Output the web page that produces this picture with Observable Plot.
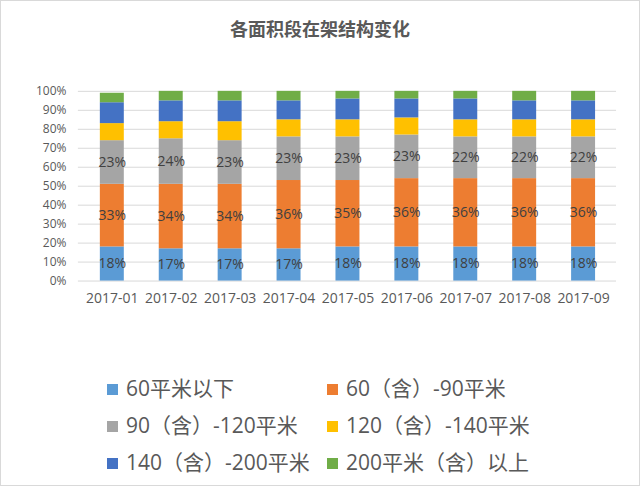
<!DOCTYPE html>
<html>
<head>
<meta charset="utf-8">
<script src="https://cdn.jsdelivr.net/npm/d3@7"></script>
<script src="https://cdn.jsdelivr.net/npm/@observablehq/plot@0.6"></script>
<style>
  html, body { margin: 0; padding: 0; background: #fff; }
  #chart { position: relative; width: 640px; height: 486px; box-sizing: border-box; border: 1px solid #d9d9d9; overflow: hidden;
    font-family: "Open Sans", "Noto Sans CJK SC", sans-serif; color: #595959; }
  #title { position: absolute; left: 0; top: 14px; width: 638px; text-align: center; font-size: 18px; font-weight: bold;
    font-family: "Noto Sans CJK SC", sans-serif; color: #595959; line-height: 26px; }
  #plot { position: absolute; left: -1px; top: -1px; }
  .legend { position: absolute; font-size: 21px; line-height: 28px; color: #595959; white-space: nowrap;
    font-family: "Open Sans", "Noto Sans CJK SC", sans-serif; }
  .legend .sw { display: inline-block; width: 11px; height: 11px; margin-right: 8px; vertical-align: 1px; }
</style>
</head>
<body>
<div id="chart">
  <div id="title">各面积段在架结构变化</div>
  <div id="plot"></div>
</div>
<script>
const months = ["2017-01","2017-02","2017-03","2017-04","2017-05","2017-06","2017-07","2017-08","2017-09"];
const seriesNames = ["60平米以下","60（含）-90平米","90（含）-120平米","120（含）-140平米","140（含）-200平米","200平米（含）以上"];
const colors = ["#5B9BD5","#ED7D31","#A5A5A5","#FFC000","#4472C4","#70AD47"];
const s1 = [18,17,17,17,18,18,18,18,18];
const s2 = [33,34,34,36,35,36,36,36,36];
const s3 = [23,24,23,23,23,23,22,22,22];
const s4 = [9,9,10,9,9,9,9,9,9];
const s5 = [11,11,11,10,11,10,11,10,10];
const s6 = [5,5,5,5,4,4,4,5,5];
const yTicks = [0,10,20,30,40,50,60,70,80,90,100];
const labeledSeries = [0,1,2];

const allSeries = [s1,s2,s3,s4,s5,s6];
const data = [];
allSeries.forEach((vals, si) => {
  vals.forEach((v, mi) => data.push({month: months[mi], series: seriesNames[si], si, value: v}));
});

const plot = Plot.plot({
  width: 640,
  height: 320,
  marginTop: 91,
  marginBottom: 39,
  marginLeft: 78,
  marginRight: 23,
  style: {color: "#595959", background: "transparent", fontFamily: '"Open Sans", "Noto Sans CJK SC", sans-serif'},
  x: {domain: months, paddingInner: 0.6, paddingOuter: 0.3, label: null},
  y: {domain: [0, 100], label: null},
  color: {domain: seriesNames, range: colors},
  marks: [
    Plot.ruleY(yTicks, {stroke: "#d9d9d9", strokeWidth: 1}),
    Plot.barY(data, Plot.stackY({x: "month", y: "value", z: "series", fill: "series"})),
    Plot.text(data, Plot.stackY({
      filter: d => labeledSeries.includes(d.si),
      x: "month", y: "value", z: "series",
      text: d => d.value + "%", fill: "#404040", fontSize: 14
    })),
    Plot.axisY({ticks: yTicks, tickFormat: d => d + "%", tickSize: 0, tickPadding: 12, fontSize: 12, label: null}),
    Plot.axisX({tickSize: 0, tickPadding: 12, fontSize: 14, label: null})
  ]
});
document.getElementById("plot").appendChild(plot);

// legend
const chart = document.getElementById("chart");
const legendPos = [[107,374],[327,374],[107,411],[327,411],[107,448],[327,448]];
seriesNames.forEach((name, i) => {
  const el = document.createElement("div");
  el.className = "legend";
  el.style.left = (legendPos[i][0] - 1) + "px";
  el.style.top = (legendPos[i][1] - 1) + "px";
  el.innerHTML = `<span class="sw" style="background:${colors[i]}"></span>${name}`;
  chart.appendChild(el);
});
</script>
</body>
</html>
